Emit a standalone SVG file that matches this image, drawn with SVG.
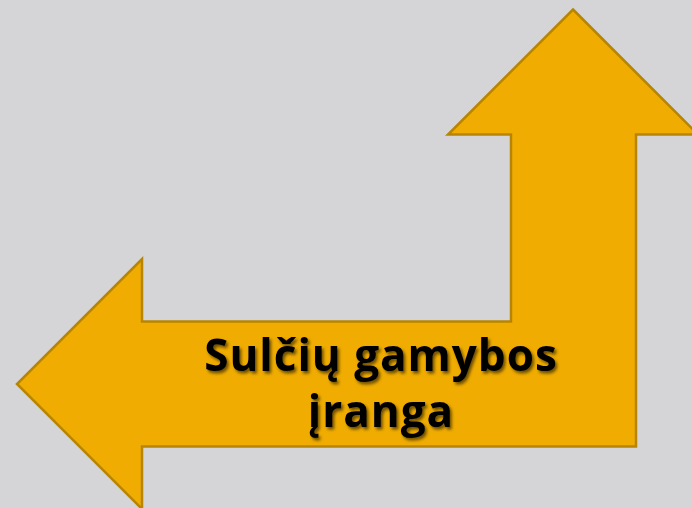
<svg xmlns="http://www.w3.org/2000/svg" width="692" height="508" viewBox="0 0 692 508">
<style>
.arrow{fill:#F0AC00;stroke:#B88500;stroke-width:2.5;stroke-linejoin:miter}
.lbl{font-family:"Open Sans",Lato,"DejaVu Sans",sans-serif;font-weight:bold;font-size:44px;letter-spacing:1px;fill:#000;text-anchor:middle}
</style>
<defs>
<filter id="sh" x="-10%" y="-20%" width="120%" height="150%">
<feDropShadow dx="2" dy="2.5" stdDeviation="1.5" flood-color="#000" flood-opacity="0.55"/>
</filter>
</defs>
<rect width="692" height="508" fill="#D5D5D7"/>
<g id="bent-arrow">
<path class="arrow" d="M573,9.5 L698,134.5 L636,134.5 L636,446.5 L142,446.5 L142,509 L17,384 L142,259 L142,321.5 L511,321.5 L511,134.5 L448,134.5 Z"/>
<g filter="url(#sh)">
<text class="lbl" x="381" y="371">Sulčių gamybos</text>
<text class="lbl" x="381" y="427">įranga</text>
</g>
</g>
</svg>
